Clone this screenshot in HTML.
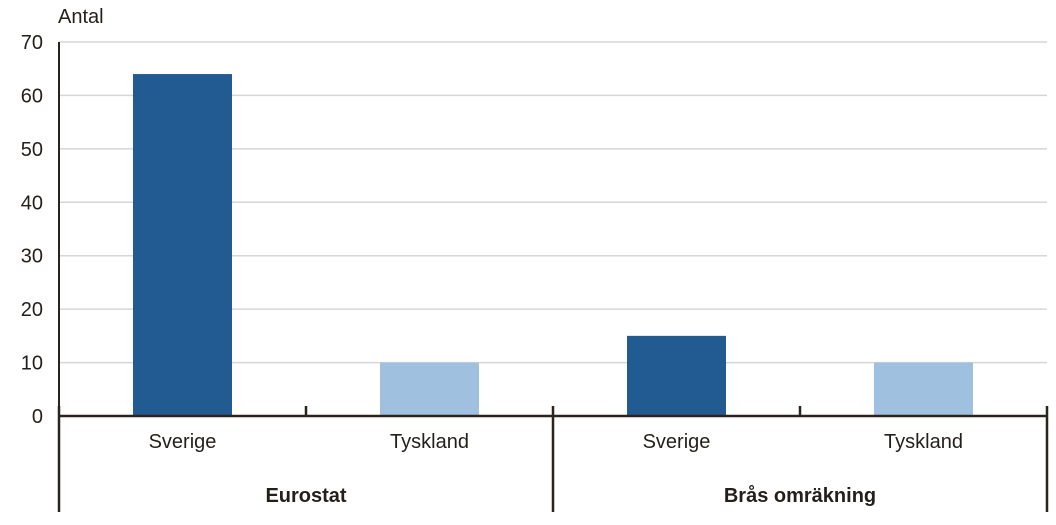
<!DOCTYPE html>
<html><head><meta charset="utf-8"><style>
body{margin:0;background:#fff;width:1056px;height:520px;overflow:hidden}
svg{font-family:"Liberation Sans",Arial,sans-serif}
</style></head><body>
<svg id="chart" width="1056" height="520">
<text x="58" y="23" font-size="20" fill="#231f1a">Antal</text>
<g id="grid"></g><g id="bars"></g><g id="axes"></g>
</svg>
<script>
const categories=["Sverige","Tyskland","Sverige","Tyskland"];
const groups=["Eurostat","Brås omräkning"];
const values=[64,10,15,10];
const colors=["#225a92","#a0c0e0","#225a92","#a0c0e0"];
const yTicks=[0,10,20,30,40,50,60,70];
const NS="http://www.w3.org/2000/svg";
const x0=59,x1=1047,yBase=416,yTop=42,yMax=70;
const y=v=>yBase-(yBase-yTop)*v/yMax;
const bw=(x1-x0)/categories.length;
function el(t,a,p){const e=document.createElementNS(NS,t);for(const k in a)e.setAttribute(k,a[k]);document.getElementById(p).appendChild(e);return e;}
yTicks.forEach(t=>{
 if(t>0){const l=el("line",{x1:x0,x2:x1,y1:y(t),y2:y(t),stroke:"#d6d6d6","stroke-width":1.5},"grid");
 
 }
 const tx=el("text",{x:43,y:y(t)+7,"text-anchor":"end","font-size":20,fill:"#231f1a"},"grid");
 tx.textContent=t;
 
 
});
values.forEach((v,i)=>{
 const cx=x0+bw*(i+0.5);
 const r=el("rect",{x:cx-49.5,y:y(v),width:99,height:yBase-y(v),fill:colors[i]},"bars");
 
 
 const t=el("text",{x:cx,y:448,"text-anchor":"middle","font-size":20,fill:"#231f1a"},"axes");
 t.textContent=categories[i];
 
 
});
const base=el("line",{x1:x0,x2:x1,y1:yBase,y2:yBase,stroke:"#2b241d","stroke-width":2.5},"axes");


const ya=el("line",{x1:x0,x2:x0,y1:yTop,y2:512,stroke:"#2b241d","stroke-width":2},"axes");


for(let i=0;i<=categories.length;i++){
 const x=x0+bw*i;
 const tk=el("line",{x1:x,x2:x,y1:406,y2:(i%2==0?512:yBase),stroke:"#2b241d","stroke-width":2.5},"axes");
 
 
}
groups.forEach((g,i)=>{
 const t=el("text",{x:x0+bw*(2*i+1),y:502,"text-anchor":"middle","font-size":20,"font-weight":"bold",fill:"#231f1a"},"axes");
 t.textContent=g;
 
 
});
</script>
</body></html>
